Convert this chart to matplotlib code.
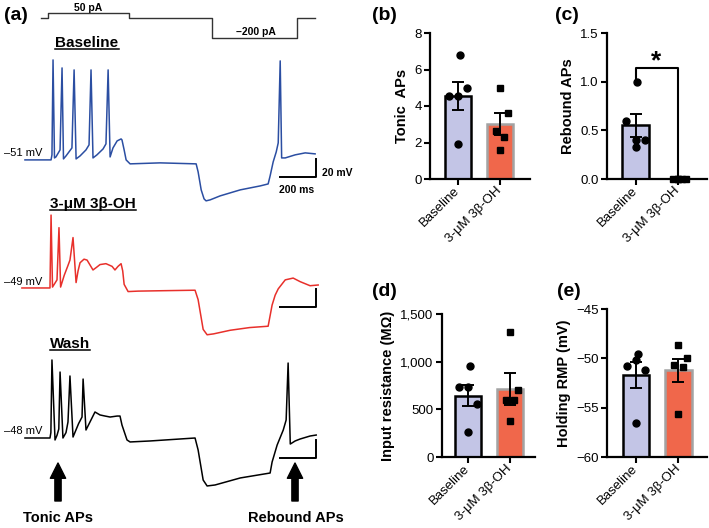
import numpy as np
import matplotlib
matplotlib.use("Agg")
import matplotlib.pyplot as plt
from matplotlib.lines import Line2D

plt.rcParams['font.family'] = ['Liberation Sans', 'DejaVu Sans']

# ---- DATA ----
# current-clamp traces, (time ms, membrane potential mV) vertices
base_t = [-128, 17, 22, 28, 36, 44, 67, 78, 86, 100, 133, 145, 156, 178, 211, 228, 239, 250, 272,
          306, 322, 334, 345, 361, 384, 406, 411, 423, 434, 456, 623, 823, 834, 851, 867, 878, 901,
          956, 1068, 1179, 1223, 1234, 1251, 1268, 1279, 1290, 1298, 1318, 1373, 1429, 1484]
base_v = [-51, -51, -45.4, 60.1, -48.8, -47.7, -39.9, 51.2, -49.9, -46.6, -37.7, 49, -49.9, -46.6,
          -39.9, -34.3, 49, -48.8, -45.4, -38.8, -33.2, 49, -47.7, -37.7, -29.9, -27.7, -28.8, -39.9,
          -51, -55.4, -54.3, -55.4, -64.3, -84.3, -94.3, -96.5, -95.4, -91, -84.3, -79.9, -77.7,
          -68.8, -53.2, -42.1, -32.1, 59, -48.8, -48.8, -45.4, -43.2, -44.3]

drug_t = [-145, 11, 17, 25, 50, 61, 70, 90, 111, 122, 139, 156, 167, 178, 200, 217, 235, 250, 270,
          289, 322, 356, 372, 389, 406, 415, 423, 445, 500, 650, 817, 834, 862, 884, 920, 1012, 1120,
          1223, 1245, 1262, 1279, 1318, 1362, 1401, 1456, 1501]
drug_v = [-49, -49, 32, -48, -40, 18, -48, -35, -24, -18, 7, -43, -30, -21, -17, -18, -24, -29, -26,
          -23, -22, -25, -29, -25, -22, -30, -45, -53, -52.5, -52, -51.5, -62, -95, -101, -100, -96,
          -93, -91.5, -68, -57, -50, -40, -38, -42, -46.5, -45.7]

wash_t = [-128, 11, 16, 22, 39, 50, 60, 67, 83, 100, 111, 122, 139, 170, 189, 195, 211, 261, 289,
          317, 345, 384, 400, 411, 439, 456, 567, 817, 834, 862, 884, 928, 1068, 1234, 1245, 1273,
          1307, 1323, 1334, 1346, 1373, 1401, 1456, 1490]
wash_v = [-48, -48, -42, 38.7, -50.2, -45, -38, 25.3, -48, -42, -30.2, 20.9, -46.9, -32, -24.7, 17.5,
          -39.1, -19.1, -22.4, -23.6, -24.7, -23.6, -23.6, -33.6, -50.2, -52.4, -51.3, -48, -61.3,
          -94.7, -101.3, -100.2, -92.4, -86.9, -74.7, -55.8, -39.1, -28, 35.3, -54.7, -51.3,
          -49.1, -45.8, -44.7]

stim_t = [-39, 0, 0, 450, 450, 912, 912, 1384, 1384, 1484]
stim_i = [0, 0, 50, 50, 0, 0, -200, -200, 0, 0]   # pA

groups = ["Baseline", "3-μM 3β-OH"]

tonic_mean = [4.55, 3.03]
tonic_sem = [0.75, 0.6]
tonic_base = [6.8, 4.53, 4.53, 4.97, 1.93]
tonic_drug = [4.97, 3.59, 2.65, 2.32, 1.6]

rebound_mean = [0.55, 0.0]
rebound_sem = [0.12, 0.0]
rebound_base = [1.0, 0.6, 0.4, 0.4, 0.33]
rebound_drug = [0, 0, 0, 0, 0]

rin_mean = [645, 716]
rin_sem = [115, 168]
rin_base = [958, 737, 737, 558, 263]
rin_drug = [1316, 705, 600, 600, 379]

rmp_mean = [-51.7, -51.2]
rmp_sem = [1.3, 1.15]
rmp_base = [-49.6, -50.8, -50.2, -51.2, -56.6]
rmp_drug = [-48.6, -50.0, -50.7, -50.9, -55.6]

# ---- STYLE ----
LAV = '#c3c5e6'
RED = '#f0674b'
BLUE_TR = '#2b4ea2'
RED_TR = '#e8302b'
W, H = 709, 528

fig = plt.figure(figsize=(W / 100, H / 100), dpi=100)

# ---------------- panel (a): traces ----------------
PX_W = 360
ms_per_px = 200 / 36
mv_per_px = 20 / 18
ax = fig.add_axes([0, 0, PX_W / W, 1])
ax.set_xlim(-48 * ms_per_px, (PX_W - 48) * ms_per_px)
ax.set_ylim(0, H * mv_per_px)
ax.axis('off')

offsets = [460, 315.7, 148]
for tt, vv, col, off in [(base_t, base_v, BLUE_TR, offsets[0]),
                         (drug_t, drug_v, RED_TR, offsets[1]),
                         (wash_t, wash_v, 'black', offsets[2])]:
    ax.plot(tt, np.array(vv) + off, color=col, lw=1.1)
    # scale bar 200 ms / 20 mV
    ax.plot([1290, 1490, 1490], [-70 + off, -70 + off, -50 + off], color='black', lw=1.4)

ax.plot(stim_t, np.array(stim_i) * 0.111 + 566.7, color='#333333', lw=1.0)


def px(x, y):
    return x / PX_W, 1 - y / H


ax.text(*px(88, 8), "50 pA", fontsize=7.5, fontweight='bold', ha='center', va='center',
        transform=ax.transAxes)
ax.text(*px(256, 32), "–200 pA", fontsize=7.5, fontweight='bold', ha='center', va='center',
        transform=ax.transAxes)
ax.text(*px(322, 173), "20 mV", fontsize=7.5, fontweight='bold', ha='left', va='center',
        transform=ax.transAxes)
ax.text(*px(297, 190), "200 ms", fontsize=7.5, fontweight='bold', ha='center', va='center',
        transform=ax.transAxes)

for y, lab in [(153, "–51 mV"), (282, "–49 mV"), (431, "–48 mV")]:
    ax.text(*px(4, y), lab, fontsize=8, ha='left', va='center', transform=ax.transAxes)

titles = []
for x, y, lab in [(87, 43, "Baseline"), (93, 204, "3-μM 3β-OH"), (70, 344, "Wash")]:
    titles.append(ax.text(*px(x, y), lab, fontsize=11, fontweight='bold', ha='center',
                          va='center', transform=ax.transAxes))

for x in [58, 295]:
    ax.annotate('', xy=px(x, 463), xytext=px(x, 501), xycoords='axes fraction',
                arrowprops=dict(arrowstyle='simple,head_length=1.1,head_width=1.1,tail_width=0.45',
                                color='black', shrinkA=0, shrinkB=0, mutation_scale=10))
ax.text(*px(58, 518), "Tonic APs", fontsize=10.5, fontweight='bold', ha='center', va='center',
        transform=ax.transAxes)
ax.text(*px(296, 518), "Rebound APs", fontsize=10.5, fontweight='bold', ha='center', va='center',
        transform=ax.transAxes)


# ---------------- bar panels ----------------
def bar_panel(rect, means, sems, pts_b, pts_d, ylim, yticks, ylabel, xl, bottom=0,
              fmt=None, labelpad=4):
    a = fig.add_axes(rect)
    xs = np.arange(2)
    heights = [m - bottom for m in means]
    a.bar(xs, heights, bottom=bottom, width=0.63, color=[LAV, RED],
          edgecolor=['black', '#a3a3a3'], linewidth=1.8, zorder=1)
    a.errorbar(xs, means, yerr=sems, fmt='none', ecolor='black', elinewidth=1.4,
               capsize=4, capthick=1.4, zorder=3)
    jit_b = [0.04, -0.22, 0.0, 0.22, 0.0]
    jit_d = [0.0, 0.2, -0.1, 0.1, 0.0]
    a.plot(xs[0] + np.array(jit_b), pts_b, 'o', color='black', ms=5, zorder=4, clip_on=False)
    a.plot(xs[1] + np.array(jit_d), pts_d, 's', color='black', ms=4.3, zorder=4, clip_on=False)
    a.set_xlim(*xl)
    a.set_ylim(*ylim)
    a.set_yticks(yticks)
    if fmt:
        a.set_yticklabels([fmt(v) for v in yticks])
    a.set_xticks(xs)
    a.set_xticklabels(groups, rotation=45, ha='right', va='center', rotation_mode='anchor',
                      fontsize=10)
    a.set_ylabel(ylabel, fontsize=10.5, fontweight='bold', labelpad=labelpad)
    for s in ['top', 'right']:
        a.spines[s].set_visible(False)
    for s in ['left', 'bottom']:
        a.spines[s].set_linewidth(1.6)
    a.tick_params(direction='out', length=4, width=1.5, labelsize=9.5, pad=2)
    a.tick_params(axis='x', pad=3)
    return a


axb = bar_panel([430 / W, 1 - 179 / H, 100 / W, 146 / H], tonic_mean, tonic_sem, tonic_base,
                tonic_drug, (0, 8), [0, 2, 4, 6, 8], "Tonic  APs", (-0.667, 1.714))

axc = bar_panel([607 / W, 1 - 179 / H, 100 / W, 146 / H], rebound_mean, rebound_sem,
                rebound_base, rebound_drug, (0, 1.5), [0, 0.5, 1.0, 1.5], "Rebound APs",
                (-0.68, 1.70), fmt=lambda v: f"{v:.1f}")
# significance bracket
axc.plot([0, 0, 1, 1], [0.97, 1.14, 1.14, 0.03], color='black', lw=1.5)
axc.text(0.5, 1.09, "*", fontsize=19, fontweight='bold', ha='center', va='bottom')

axd = bar_panel([442 / W, 1 - 457 / H, 93 / W, 143 / H], rin_mean, rin_sem, rin_base, rin_drug,
                (0, 1500), [0, 500, 1000, 1500], "Input resistance (MΩ)", (-0.63, 1.61),
                fmt=lambda v: f"{v:,.0f}")

axe = bar_panel([607 / W, 1 - 457 / H, 100 / W, 148 / H], rmp_mean, rmp_sem, rmp_base, rmp_drug,
                (-60, -45), [-60, -55, -50, -45], "Holding RMP (mV)", (-0.68, 1.67), bottom=-60,
                fmt=lambda v: f"{v:.0f}".replace('-', '\u2212'))

# panel letters
for x, y, lab in [(4, 15, "(a)"), (372, 15, "(b)"), (555, 15, "(c)"), (372, 292, "(d)"),
                  (557, 292, "(e)")]:
    fig.text(x / W, 1 - y / H, lab, fontsize=14, fontweight='bold', ha='left', va='center')

# underline the trace titles
fig.canvas.draw()
r = fig.canvas.get_renderer()
for t in titles:
    bb = t.get_window_extent(r)
    yline = (bb.y0 + 1) / H
    fig.add_artist(Line2D([bb.x0 / W, bb.x1 / W], [yline, yline], transform=fig.transFigure,
                          color='black', lw=1.1))

fig.savefig("out.png", dpi=100)
